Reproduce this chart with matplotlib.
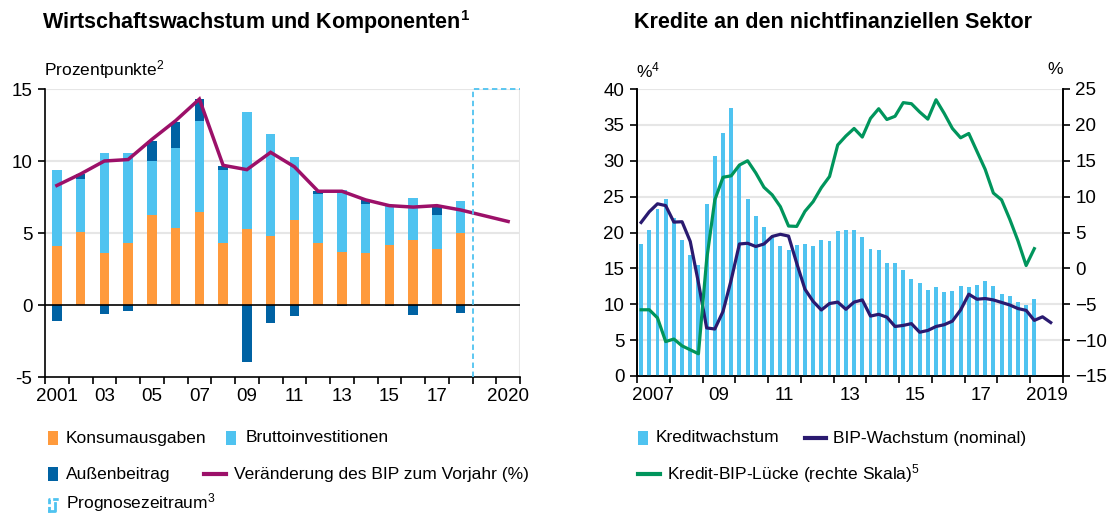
import matplotlib
matplotlib.use("Agg")
import matplotlib.pyplot as plt
from matplotlib.patches import Rectangle
from matplotlib.lines import Line2D
import numpy as np

plt.rcParams['font.family'] = ['Liberation Sans', 'DejaVu Sans']
plt.rcParams['mathtext.default'] = 'regular'

# ---------------- Data: left chart ----------------
years = list(range(2001, 2021))
bar_years = list(range(2001, 2019))
konsum = [4.1, 5.1, 3.6, 4.33, 6.23, 5.37, 6.48, 4.3, 5.28, 4.81, 5.93, 4.33, 3.68, 3.59, 4.14, 4.54, 3.91, 5.02]
invest = [5.3, 3.63, 6.96, 6.2, 3.8, 5.5, 6.32, 5.08, 8.1, 7.09, 4.37, 3.4, 4.28, 3.4, 2.83, 2.86, 2.32, 2.18]
aussen = [-1.1, 0.4, -0.6, -0.4, 1.39, 1.87, 1.48, 0.3, -3.98, -1.27, -0.79, 0.19, -0.07, 0.3, -0.1, -0.67, 0.67, -0.58]
bip_change = [8.3, 9.1, 10.0, 10.1, 11.5, 12.8, 14.3, 9.7, 9.4, 10.6, 9.6, 7.9, 7.9, 7.3, 6.9, 6.8, 6.9, 6.6, 6.2, 5.8]
left_xlabels = ['2001', '03', '05', '07', '09', '11', '13', '15', '17', '2020']
left_xlabel_years = [2001, 2003, 2005, 2007, 2009, 2011, 2013, 2015, 2017, 2020]
prognose_start, prognose_end = 2018.5, 2020.5

# ---------------- Data: right chart (quarterly from 2007Q1) ----------------
kredit = [18.4, 20.3, 23.3, 24.7, 22.0, 19.0, 16.8, 15.45, 24.0, 30.6, 33.9, 37.3,
          29.3, 24.7, 22.3, 20.8, 19.5, 18.1, 17.6, 18.2, 18.4, 18.1, 19.0, 18.75,
          20.2, 20.3, 20.4, 19.35, 17.7, 17.55, 15.8, 15.8, 14.8, 13.5, 12.95, 12.0,
          12.45, 11.75, 11.9, 12.5, 12.4, 12.7, 13.3, 12.5, 11.4, 11.1, 10.35, 9.9, 10.8]
bip_nominal = [21.4, 22.9, 24.0, 23.75, 21.45, 21.5, 18.75, 13.0, 6.7, 6.55, 9.0, 13.4,
               18.4, 18.5, 18.05, 18.4, 19.45, 19.75, 19.5, 15.7, 12.1, 10.4, 9.2, 10.1,
               10.3, 9.3, 10.3, 10.6, 8.35, 8.6, 8.2, 6.9, 7.05, 7.3, 6.1, 6.35,
               6.9, 7.15, 7.65, 9.2, 11.4, 10.7, 10.8, 10.6, 10.25, 9.9, 9.4, 9.15,
               7.75, 8.25, 7.45]
kredit_gap = [-5.77, -5.77, -6.9, -10.2, -9.85, -10.8, -11.35, -11.9, 1.2, 9.55, 12.7, 12.9,
              14.4, 15.0, 13.3, 11.3, 10.25, 8.6, 5.9, 5.85, 7.95, 9.3, 11.25, 12.8,
              17.2, 18.45, 19.5, 18.3, 20.9, 22.25, 20.75, 21.2, 23.1, 22.95, 21.8, 20.8,
              23.5, 21.6, 19.5, 18.2, 18.8, 16.3, 13.8, 10.5, 9.55, 6.85, 3.85, 0.4, 2.75]
right_xlabels = ['2007', '09', '11', '13', '15', '17', '2019']
right_xlabel_years = [2007, 2009, 2011, 2013, 2015, 2017, 2019]

# ---------------- Colours ----------------
C_ORANGE = '#FF9A3C'
C_LBLUE = '#4FC3F0'
C_DBLUE = '#0062A3'
C_PURPLE = '#9C1069'
C_NAVY = '#2A1A70'
C_GREEN = '#00955C'
C_GRID = '#E6E6E6'

W, H = 1108, 516
fig = plt.figure(figsize=(W / 100, H / 100), dpi=100)


def axrect(x0, y0, x1, y1):
    return [x0 / W, 1 - y1 / H, (x1 - x0) / W, (y1 - y0) / H]


TICK_FS = 13.5
LEG_FS = 12.5

# ================= Left chart =================
ax = fig.add_axes(axrect(45, 89, 520, 377))
bx = np.array(bar_years, dtype=float)
konsum_a = np.array(konsum)
invest_a = np.array(invest)
aussen_a = np.array(aussen)
bw = 0.4
ax.bar(bx, konsum_a, width=bw, color=C_ORANGE, zorder=3)
ax.bar(bx, invest_a, width=bw, bottom=konsum_a, color=C_LBLUE, zorder=3)
pos = np.where(aussen_a > 0, aussen_a, 0)
neg = np.where(aussen_a < 0, aussen_a, 0)
ax.bar(bx, pos, width=bw, bottom=konsum_a + invest_a, color=C_DBLUE, zorder=3)
ax.bar(bx, neg, width=bw, color=C_DBLUE, zorder=3)
ax.plot(years, bip_change, color=C_PURPLE, lw=2.5, zorder=5, solid_joinstyle='miter')
ax.axhline(0, color='black', lw=1.2, zorder=4)
ax.set_xlim(2000.5, 2020.5)
ax.set_ylim(-5, 15)
ax.set_yticks([-5, 0, 5, 10, 15])
ax.set_yticklabels(['-5', '0', '5', '10', '15'])
for v in [5, 10, 15]:
    ax.axhline(v, color=C_GRID, lw=1.5, zorder=1)
ax.axvline(2020.5, color=C_GRID, lw=1.5, zorder=1)
# Prognose box
ax.plot([prognose_start, prognose_start, prognose_end], [-5, 15, 15],
        color=C_LBLUE, lw=1.3, ls=(0, (3, 2)), zorder=6, clip_on=False)
ax.set_xticks(left_xlabel_years)
ax.set_xticklabels(left_xlabels)
ax.set_xticks(np.arange(2000.5, 2021.0, 1.0), minor=True)
ax.tick_params(axis='x', which='major', length=0, pad=8, labelsize=TICK_FS)
ax.tick_params(axis='x', which='minor', length=5, width=1.2, direction='out')
ax.tick_params(axis='y', length=5, width=1.2, labelsize=TICK_FS, pad=4)
for s in ['top', 'right']:
    ax.spines[s].set_visible(False)
for s in ['left', 'bottom']:
    ax.spines[s].set_linewidth(1.2)

# ================= Right chart =================
ax2 = fig.add_axes(axrect(637, 89, 1063, 376))
nq = len(kredit)
qx = 2007 + (np.arange(nq) + 0.5) / 4
qx_bip = 2007 + (np.arange(len(bip_nominal)) + 0.5) / 4
ax2.bar(qx, kredit, width=0.12, color=C_LBLUE, zorder=3)
ax2.plot(qx_bip, bip_nominal, color=C_NAVY, lw=2.3, zorder=5)
ax2.set_xlim(2007, 2020)
ax2.set_ylim(0, 40)
ax2.set_yticks(range(0, 41, 5))
for v in range(5, 41, 5):
    ax2.axhline(v, color=C_GRID, lw=1.5, zorder=1)
ax2.set_xticks([y + 0.5 for y in right_xlabel_years])
ax2.set_xticklabels(right_xlabels)
ax2.set_xticks(range(2007, 2021), minor=True)
ax2.tick_params(axis='x', which='major', length=0, pad=8, labelsize=TICK_FS)
ax2.tick_params(axis='x', which='minor', length=5, width=1.2, direction='out')
ax2.tick_params(axis='y', length=5, width=1.2, labelsize=TICK_FS, pad=4)
ax2.spines['top'].set_visible(False)
for s in ['left', 'bottom', 'right']:
    ax2.spines[s].set_linewidth(1.2)

ax3 = ax2.twinx()
ax3.plot(qx, kredit_gap, color=C_GREEN, lw=2.3, zorder=5)
ax3.set_ylim(-15, 25)
ax3.set_yticks(range(-15, 26, 5))
ax3.tick_params(axis='y', length=5, width=1.2, labelsize=TICK_FS, pad=4)
ax3.spines['top'].set_visible(False)
for s in ['left', 'bottom', 'right']:
    ax3.spines[s].set_linewidth(1.2)

# ================= Titles and unit labels =================
def ftext(x, y, s, **kw):
    fig.text(x / W, 1 - y / H, s, **kw)

ftext(42, 22, r'Wirtschaftswachstum und Komponenten$^{1}$', fontsize=15.5, fontweight='bold', va='center')
ftext(634, 22, 'Kredite an den nichtfinanziellen Sektor', fontsize=15.5, fontweight='bold', va='center')
ftext(44, 70, r'Prozentpunkte$^{2}$', fontsize=12.5, va='center')
ftext(636, 70, r'%$^{4}$', fontsize=12.5, va='center')
ftext(1063, 70, '%', fontsize=12.5, va='center', ha='right')

# ================= Legends =================
def leg_square(x, y, color, label, tx):
    fig.add_artist(Rectangle((x / W, 1 - (y + 7) / H), 10 / W, 14 / H,
                             transform=fig.transFigure, color=color, lw=0))
    ftext(tx, y, label, fontsize=LEG_FS, va='center')


def leg_line(x0, x1, y, color, label, tx):
    fig.add_artist(Line2D([x0 / W, x1 / W], [1 - y / H, 1 - y / H],
                          transform=fig.transFigure, color=color, lw=3))
    ftext(tx, y, label, fontsize=LEG_FS, va='center')


leg_square(48, 438, C_ORANGE, 'Konsumausgaben', 66)
leg_square(226, 438, C_LBLUE, 'Bruttoinvestitionen', 246)
leg_square(48, 474, C_DBLUE, 'Außenbeitrag', 66)
leg_line(204, 226, 474, C_PURPLE, 'Veränderung des BIP zum Vorjahr (%)', 234)
# Prognose icon (dashed open box)
fig.add_artist(Line2D([49 / W, 49 / W, 59 / W], [1 - 512 / H, 1 - 499 / H, 1 - 499 / H],
                      transform=fig.transFigure, color=C_LBLUE, lw=2, ls=(0, (2, 1))))
fig.add_artist(Line2D([55 / W, 55 / W, 49 / W], [1 - 503 / H, 1 - 511 / H, 1 - 511 / H],
                      transform=fig.transFigure, color=C_LBLUE, lw=2))
ftext(66, 503, r'Prognosezeitraum$^{3}$', fontsize=LEG_FS, va='center')

leg_square(638, 438, C_LBLUE, 'Kreditwachstum', 656)
leg_line(805, 826, 438, C_NAVY, 'BIP-Wachstum (nominal)', 833)
leg_line(638, 660, 474, C_GREEN, r'Kredit-BIP-Lücke (rechte Skala)$^{5}$', 667)

fig.savefig('out.png', dpi=100)
